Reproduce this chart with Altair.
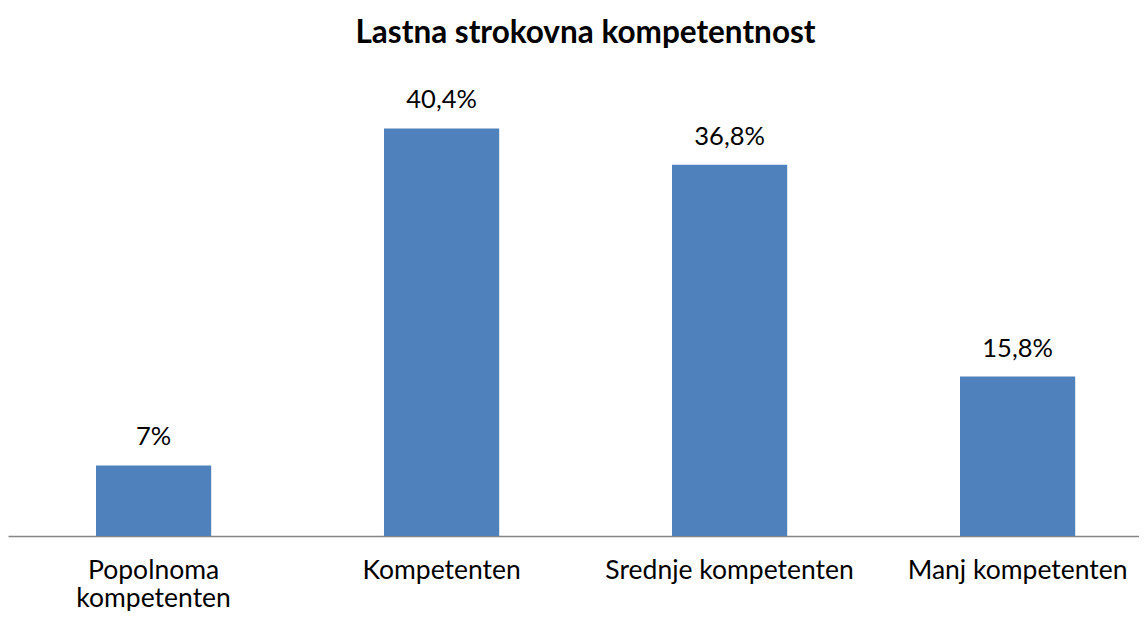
import altair as alt
import pandas as pd

categories = ["Popolnoma kompetenten", "Kompetenten", "Srednje kompetenten", "Manj kompetenten"]
values = [7.0, 40.4, 36.8, 15.8]
value_labels = ["7%", "40,4%", "36,8%", "15,8%"]
title_text = "Lastna strokovna kompetentnost"

df = pd.DataFrame({"kategorija": categories, "delez": values, "oznaka": value_labels})

FONT = "Lato"

base = alt.Chart(df).encode(
    x=alt.X(
        "kategorija:N",
        sort=categories,
        scale=alt.Scale(paddingInner=0.6, paddingOuter=0.2635, align=0.5797),
        axis=alt.Axis(
            title=None,
            labelAngle=0,
            ticks=False,
            domainColor="#868686",
            domainWidth=1.5,
            labelFont=FONT,
            labelFontSize=26.5,
            labelColor="#000000",
            labelPadding=42,
            labelBaseline="alphabetic",
            labelLineHeight=28,
            labelLimit=400,
            labelOverlap=False,
            labelFlush=False,
            labelExpr="datum.value == 'Popolnoma kompetenten' ? ['Popolnoma', 'kompetenten'] : datum.label",
        ),
    ),
    y=alt.Y("delez:Q", scale=alt.Scale(domain=[0, 45]), axis=None),
)

bars = base.mark_bar(color="#4F81BD")
text = base.mark_text(
    dy=-20, baseline="alphabetic", font=FONT, fontSize=25.5, color="#000000"
).encode(text="oznaka:N")

chart = (
    (bars + text)
    .properties(
        width=1131,
        height=454,
        title=alt.TitleParams(
            title_text,
            font=FONT,
            fontSize=31.5,
            fontWeight="bold",
            anchor="middle",
            baseline="alphabetic",
            offset=8,
            dx=12,
            color="#000000",
        ),
        autosize="none",
        padding={"left": 0, "top": 74, "right": 0, "bottom": 75},
    )
    .configure_view(stroke=None)
)

chart.save("out.html", embed_options={"renderer": "svg", "actions": False})
